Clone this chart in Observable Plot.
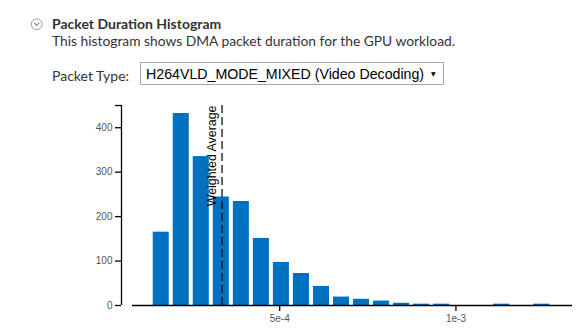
<!DOCTYPE html>
<html>
<head>
<meta charset="utf-8">
<script src="https://cdn.jsdelivr.net/npm/d3@7"></script>
<script src="https://cdn.jsdelivr.net/npm/@observablehq/plot@0.6"></script>
<style>
  html, body { margin: 0; padding: 0; background: #fff; }
  body { width: 588px; height: 329px; position: relative; overflow: hidden; }
  .abs { position: absolute; white-space: nowrap; }
  #title { left: 52px; top: 17px; font: bold 14px/13px Lato, sans-serif; color: #333; }
  #subtitle { left: 52px; top: 33.5px; font: 13.8px/13px Lato, sans-serif; color: #333; }
  #ptlabel { left: 52px; top: 69px; font: 14px/14px Lato, sans-serif; color: #333; }
  #select { left: 140px; top: 62px; width: 304px; height: 23px; border: 1px solid #a6a6a6; box-sizing: border-box; }
  #seltext { left: 5px; top: 3.5px; font: 14.2px/14.2px "Liberation Sans", Arial, sans-serif; color: #000; }
  #selarrow { left: 290px; top: 7.5px; font: 6px/6px "DejaVu Sans", sans-serif; color: #000; }
  #icon { left: 30px; top: 18px; }
  #chart { left: 0; top: 95px; }
  #chart g[aria-label="y-axis tick label"] text, #chart g[aria-label="x-axis tick label"] text { fill: #555; }
</style>
</head>
<body>
<svg id="icon" class="abs" width="14" height="14" viewBox="0 0 14 14">
  <circle cx="6.7" cy="6.2" r="5.4" fill="none" stroke="#9a9a9a" stroke-width="1"/>
  <polyline points="4.2,5 6.7,7.5 9.2,5" fill="none" stroke="#8a8a8a" stroke-width="1.1"/>
</svg>
<div id="title" class="abs">Packet Duration Histogram</div>
<div id="subtitle" class="abs">This histogram shows DMA packet duration for the GPU workload.</div>
<div id="ptlabel" class="abs">Packet Type:</div>
<div id="select" class="abs">
  <div id="seltext" class="abs">H264VLD_MODE_MIXED (Video Decoding)</div>
  <div id="selarrow" class="abs">▼</div>
</div>
<div id="chart" class="abs"></div>
<script>
// Histogram bins (packet duration, seconds) and counts
const binStart = [1.355e-4, 1.923e-4, 2.491e-4, 3.060e-4, 3.628e-4, 4.196e-4, 4.764e-4, 5.332e-4, 5.901e-4, 6.469e-4,
                  7.037e-4, 7.605e-4, 8.173e-4, 8.741e-4, 9.310e-4, 9.878e-4, 1.0446e-3, 1.1014e-3, 1.1582e-3, 1.2151e-3];
const binWidth = 5.682e-5;
const counts = [165, 432, 335, 244, 234, 151, 97, 72, 43, 19, 14, 10, 5, 3, 3, 0, 0, 3, 0, 3];
const weightedAverage = [3.364e-4];
const xDomain = [8.24e-5, 1.3307e-3];
const yDomain = [0, 450];
const xTicks = [5e-4, 1e-3];
const xTickLabels = ["5e-4", "1e-3"];
const yTicks = [0, 100, 200, 300, 400];

const bins = binStart.map((s, i) => ({x1: s, x2: s + binWidth, count: counts[i]}));

const chart = Plot.plot({
  width: 588,
  height: 234,
  marginTop: 10,
  marginBottom: 24,
  marginLeft: 132,
  marginRight: 16,
  style: {fontFamily: "'Liberation Sans', Arial, sans-serif", fontSize: "10px", background: "transparent", overflow: "visible"},
  x: {type: "linear", domain: xDomain},
  y: {domain: yDomain},
  marks: [
    Plot.rectY(bins, {x1: "x1", x2: "x2", y: "count", fill: "#0070c0", insetLeft: 2, insetRight: 2}),
    Plot.ruleX(weightedAverage, {y1: yDomain[0], y2: yDomain[1], stroke: "#000", strokeWidth: 1.2, strokeDasharray: "8,4"}),
    Plot.text(weightedAverage, {x: d => d, y: yDomain[1], text: () => "Weighted Average", rotate: -90,
      textAnchor: "end", lineAnchor: "bottom", dx: -6, fill: "#000", fontSize: 12.4,
      fontFamily: "'Liberation Sans', Arial, sans-serif"}),
    Plot.ruleY([0], {stroke: "#000", strokeWidth: 1.3}),
    Plot.axisX({ticks: xTicks, tickFormat: (d) => xTickLabels[xTicks.indexOf(d)], tickSize: 6, tickPadding: 3, stroke: "#000", strokeWidth: 1.3, label: null}),
    Plot.ruleX([xDomain[0]], {y1: yDomain[0], y2: yDomain[1], dx: -11, stroke: "#000", strokeWidth: 1.3}),
    Plot.axisY({ticks: [...yTicks, yDomain[1]], tickFormat: d => yTicks.includes(d) ? String(d) : "", tickSize: 6, tickPadding: 3, dx: -11, stroke: "#000", strokeWidth: 1.3, label: null})
  ]
});
document.getElementById("chart").appendChild(chart);
</script>
</body>
</html>
